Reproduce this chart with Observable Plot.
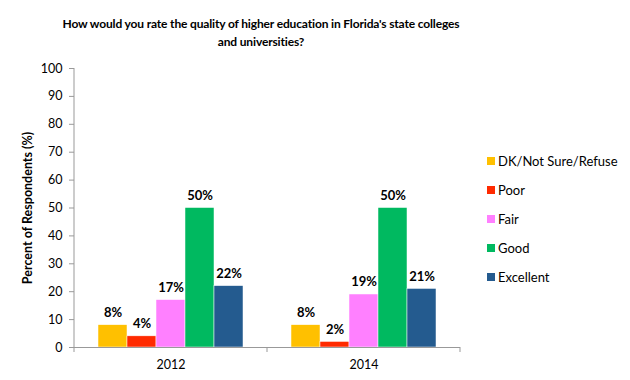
<!DOCTYPE html>
<html><head><meta charset="utf-8">
<script src="https://cdn.jsdelivr.net/npm/d3@7"></script>
<script src="https://cdn.jsdelivr.net/npm/@observablehq/plot@0.6"></script>
<style>
body{margin:0;background:#fff;font-family:Lato,sans-serif;color:#000;}
#wrap{position:relative;width:630px;height:380px;overflow:hidden;}
#title{width:522px;height:50px;padding-top:15px;box-sizing:border-box;text-align:center;font-weight:bold;font-size:12px;letter-spacing:-0.15px;line-height:18px;}
#legend{position:absolute;left:487px;top:146px;font-size:13px;}
.item{display:flex;align-items:center;height:29px;}
.sw{width:8px;height:8px;margin-right:3px;}
svg [aria-label="y-axis label"] text{font-weight:bold;}
</style></head><body>
<div id="wrap">
<div id="title">How would you rate the quality of higher education in Florida's state colleges<br>and universities?</div>
<div id="chart"></div>
<div id="legend"></div>
</div>
<script>
const years = ["2012", "2014"];
const categories = ["DK/Not Sure/Refuse", "Poor", "Fair", "Good", "Excellent"];
const values2012 = [8, 4, 17, 50, 22];
const values2014 = [8, 2, 19, 50, 21];
const colors = ["#FFC000", "#FF2A00", "#FF80FF", "#00B960", "#245B8F"];
const yTicks = d3.range(0, 101, 10);
const yLabel = "Percent of Respondents (%)";

const series = [values2012, values2014];
const data = years.flatMap((year, i) => categories.map((category, j) => ({year, category, value: series[i][j]})));

const plot = Plot.plot({
  width: 630, height: 330,
  marginTop: 18, marginBottom: 33, marginLeft: 73, marginRight: 170,
  style: {fontFamily: "Lato, sans-serif", fontSize: "12.5px", color: "#000", background: "#fff"},
  fx: {domain: years, padding: 0, label: null},
  x: {domain: categories, paddingInner: 0, paddingOuter: 0.79, axis: null},
  y: {domain: [0, 100]},
  color: {domain: categories, range: colors},
  marks: [
    Plot.barY(data, {fx: "year", x: "category", y: "value", fill: "category", stroke: "#fff", strokeWidth: 0.5}),
    Plot.text(data, {fx: "year", x: "category", y: "value", text: d => d.value + "%", lineAnchor: "bottom", dy: -8, fontWeight: "bold", fontSize: 13}),
    Plot.ruleY([0], {stroke: "#999"}),
    Plot.axisY({ticks: yTicks, tickSize: 5, tickPadding: 7, stroke: "#999", fill: "#000", label: yLabel, labelAnchor: "center", labelArrow: "none", labelOffset: 51}),
    Plot.axisFx({anchor: "bottom", tickSize: 0, tickPadding: 13, fill: "#000", label: null})
  ]
});

// axis line and band-boundary ticks from the plot's own scales
const fx = plot.scale("fx"), y = plot.scale("y");
const x0 = fx.apply(years[0]);
const bounds = years.map(d => fx.apply(d)).concat([fx.apply(years[years.length - 1]) + fx.bandwidth]);
const g = d3.select(plot).append("g").attr("stroke", "#999");
g.append("line").attr("x1", x0).attr("x2", x0).attr("y1", y.apply(0)).attr("y2", y.apply(100));
bounds.forEach(b => g.append("line").attr("x1", b).attr("x2", b).attr("y1", y.apply(0)).attr("y2", y.apply(0) + 5));

document.getElementById("chart").appendChild(plot);

const legend = d3.select("#legend");
categories.forEach((c, i) => {
  const it = legend.append("div").attr("class", "item");
  it.append("div").attr("class", "sw").style("background", colors[i]);
  it.append("span").text(c);
});
</script>
</body></html>
